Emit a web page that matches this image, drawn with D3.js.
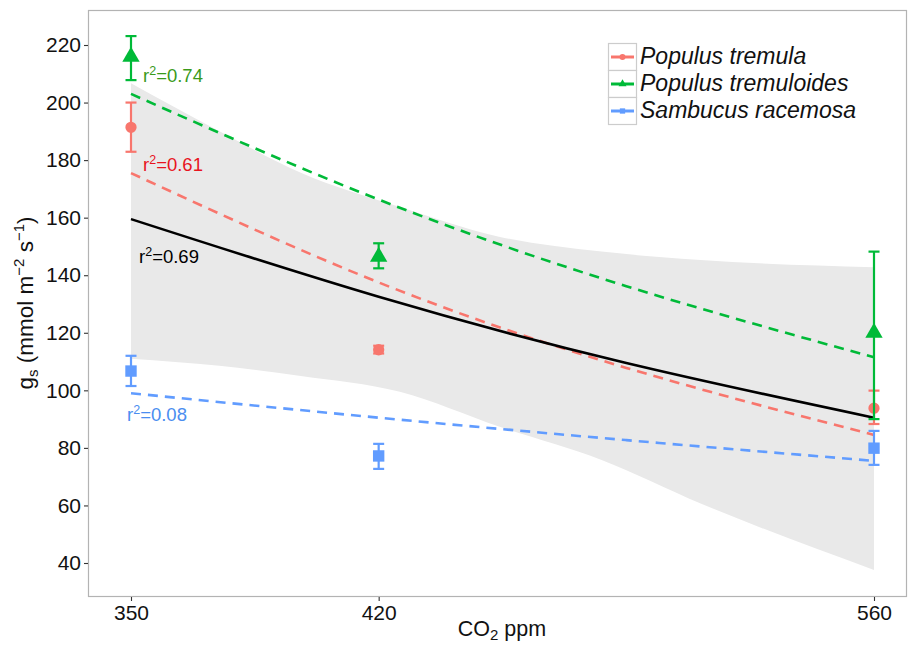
<!DOCTYPE html>
<html><head><meta charset="utf-8">
<script src="https://cdn.jsdelivr.net/npm/d3@7"></script>
<style>body{margin:0;background:#fff}text{font-family:"Liberation Sans",Arial,sans-serif}</style>
</head><body>
<svg id="c" width="908" height="645"></svg>
<script>
// ---- data ----
const co2Levels = [350, 420, 560];
const xTicks = [350, 420, 560];
const yTicks = [40, 60, 80, 100, 120, 140, 160, 180, 200, 220];
const speciesNames = ["Populus tremula", "Populus tremuloides", "Sambucus racemosa"];
const speciesColors = ["#F8766D", "#00BA38", "#619CFF"];
const labelColors = ["#E8141E", "#3A9A1A", "#4A8DF0"];
// means and error bar limits
const tremulaMean = [191.4, 114.1, 93.8];
const tremulaLow = [182.9, 112.8, 88.3];
const tremulaHigh = [200.0, 115.5, 99.9];
const tremuloidesMean = [215.9, 146.4, 120.0];
const tremuloidesLow = [207.8, 142.4, 90.0];
const tremuloidesHigh = [223.1, 151.1, 148.2];
const sambucusMean = [106.7, 77.2, 79.9];
const sambucusLow = [101.5, 72.7, 74.1];
const sambucusHigh = [112.0, 81.4, 85.9];
// fitted lines (read at these CO2 values)
const fitX = [350, 420, 490, 560];
const tremulaFit = [175.5, 137.5, 107.8, 84.5];
const tremuloidesFit = [203.0, 166.3, 136.2, 111.5];
const sambucusFit = [99.0, 90.5, 82.7, 75.5];
const pooledFit = [159.5, 132.5, 109.5, 90.5];
// confidence band of pooled fit
const bandX = [350, 375, 398, 426, 454, 483, 511, 560];
const bandLow = [111.0, 108.5, 105.0, 99.5, 87.4, 75.8, 60.7, 37.6];
const bandHigh = [206.7, 190.0, 175.6, 163.7, 153.4, 148.2, 145.3, 142.8];
const r2Labels = ["r\u00B2=0.61", "r\u00B2=0.74", "r\u00B2=0.08"];
const pooledLabel = "r\u00B2=0.69";

// ---- layout ----
const svg = d3.select("#c");
const P = {l: 88, r: 907, t: 10, b: 597};
const x = d3.scaleLinear().domain([350, 560]).range([131, 874]);
const y = d3.scaleLinear().domain([40, 220]).range([563, 45]);

// band
const bandData = bandX.map((d, i) => ({x: d, lo: bandLow[i], hi: bandHigh[i]}));
svg.append("path").datum(bandData)
  .attr("d", d3.area().x(d => x(d.x)).y0(d => y(d.lo)).y1(d => y(d.hi)).curve(d3.curveMonotoneX))
  .attr("fill", "#e9e9e9");

// panel border
svg.append("rect").attr("x", P.l + 0.5).attr("y", P.t + 0.5)
  .attr("width", P.r - P.l - 1).attr("height", P.b - P.t - 1)
  .attr("fill", "none").attr("stroke", "#b3b3b3").attr("stroke-width", 1.2);

// axes
const yAxis = svg.append("g").attr("transform", `translate(${P.l},0)`)
  .call(d3.axisLeft(y).tickValues(yTicks).tickSize(4).tickPadding(3));
const xAxis = svg.append("g").attr("transform", `translate(0,${P.b})`)
  .call(d3.axisBottom(x).tickValues(xTicks).tickSize(4).tickPadding(4));
[yAxis, xAxis].forEach(a => {
  a.select(".domain").remove();
  a.selectAll(".tick line").attr("stroke", "#333").attr("stroke-width", 1.1);
  a.selectAll("text").attr("font-size", 21).attr("fill", "#111")
    .style("font-family", "'Liberation Sans', Arial, sans-serif");
});

// fit lines
const line = d3.line().x(d => x(d[0])).y(d => y(d[1])).curve(d3.curveNatural);
const fits = [tremulaFit, tremuloidesFit, sambucusFit];
fits.forEach((f, i) => {
  svg.append("path").datum(fitX.map((v, j) => [v, f[j]]))
    .attr("d", line).attr("fill", "none").attr("stroke", speciesColors[i])
    .attr("stroke-width", 2.6).attr("stroke-dasharray", "10,7");
});
svg.append("path").datum(fitX.map((v, j) => [v, pooledFit[j]]))
  .attr("d", line).attr("fill", "none").attr("stroke", "#000").attr("stroke-width", 2.6);

// error bars & points
const means = [tremulaMean, tremuloidesMean, sambucusMean];
const lows = [tremulaLow, tremuloidesLow, sambucusLow];
const highs = [tremulaHigh, tremuloidesHigh, sambucusHigh];
const symbols = [d3.symbolCircle, d3.symbolTriangle, d3.symbolSquare];
const symSizes = [100, 130, 130];
means.forEach((m, i) => {
  const g = svg.append("g");
  co2Levels.forEach((c, j) => {
    const cx = x(c);
    g.append("line").attr("x1", cx).attr("x2", cx).attr("y1", y(lows[i][j])).attr("y2", y(highs[i][j]))
      .attr("stroke", speciesColors[i]).attr("stroke-width", 2.2);
    [lows[i][j], highs[i][j]].forEach(v => {
      g.append("line").attr("x1", cx - 5.5).attr("x2", cx + 5.5).attr("y1", y(v)).attr("y2", y(v))
        .attr("stroke", speciesColors[i]).attr("stroke-width", 2.2);
    });
    g.append("path").attr("d", d3.symbol().type(symbols[i]).size(symSizes[i])())
      .attr("transform", `translate(${cx},${y(m[j])})`).attr("fill", speciesColors[i]);
  });
});

// r2 labels
function r2(txt, px, py, col) {
  const t = svg.append("text").attr("x", px).attr("y", py).attr("fill", col).attr("font-size", 18.5);
  t.append("tspan").text("r");
  t.append("tspan").attr("dy", -7).attr("font-size", 12.5).text("2");
  t.append("tspan").attr("dy", 7).text(txt.slice(2));
}
r2(r2Labels[1], 143, 82, labelColors[1]);
r2(r2Labels[0], 143, 171, labelColors[0]);
r2(pooledLabel, 139, 263, "#000");
r2(r2Labels[2], 127, 421, labelColors[2]);

// legend
const lg = svg.append("g");
speciesNames.forEach((n, i) => {
  const yy = 43 + i * 27;
  lg.append("rect").attr("x", 608.5).attr("y", yy + 0.5).attr("width", 28).attr("height", 27)
    .attr("fill", "#fff").attr("stroke", "#cccccc").attr("stroke-width", 1.2);
  lg.append("line").attr("x1", 611).attr("x2", 634).attr("y1", yy + 14).attr("y2", yy + 14)
    .attr("stroke", speciesColors[i]).attr("stroke-width", 3);
  lg.append("path").attr("d", d3.symbol().type(symbols[i]).size(28)())
    .attr("transform", `translate(622.5,${yy + 14})`).attr("fill", speciesColors[i]);
  lg.append("text").attr("x", 640).attr("y", yy + 21).attr("font-size", 23)
    .attr("font-style", "italic").attr("fill", "#111").text(n);
});

// axis titles
const xt = svg.append("text").attr("x", 502).attr("y", 636).attr("text-anchor", "middle")
  .attr("font-size", 21.5).attr("fill", "#111");
xt.append("tspan").text("CO");
xt.append("tspan").attr("dy", 4).attr("font-size", 15).text("2");
xt.append("tspan").attr("dy", -4).text(" ppm");

const yt = svg.append("text").attr("transform", "translate(33,303) rotate(-90)")
  .attr("text-anchor", "middle").attr("font-size", 22.5).attr("fill", "#111");
yt.append("tspan").text("g");
yt.append("tspan").attr("dy", 5).attr("font-size", 15).text("s");
yt.append("tspan").attr("dy", -5).text(" (mmol m");
yt.append("tspan").attr("dy", -9).attr("font-size", 15).text("\u22122");
yt.append("tspan").attr("dy", 9).text(" s");
yt.append("tspan").attr("dy", -9).attr("font-size", 15).text("\u22121");
yt.append("tspan").attr("dy", 9).text(")");
</script>
</body></html>
